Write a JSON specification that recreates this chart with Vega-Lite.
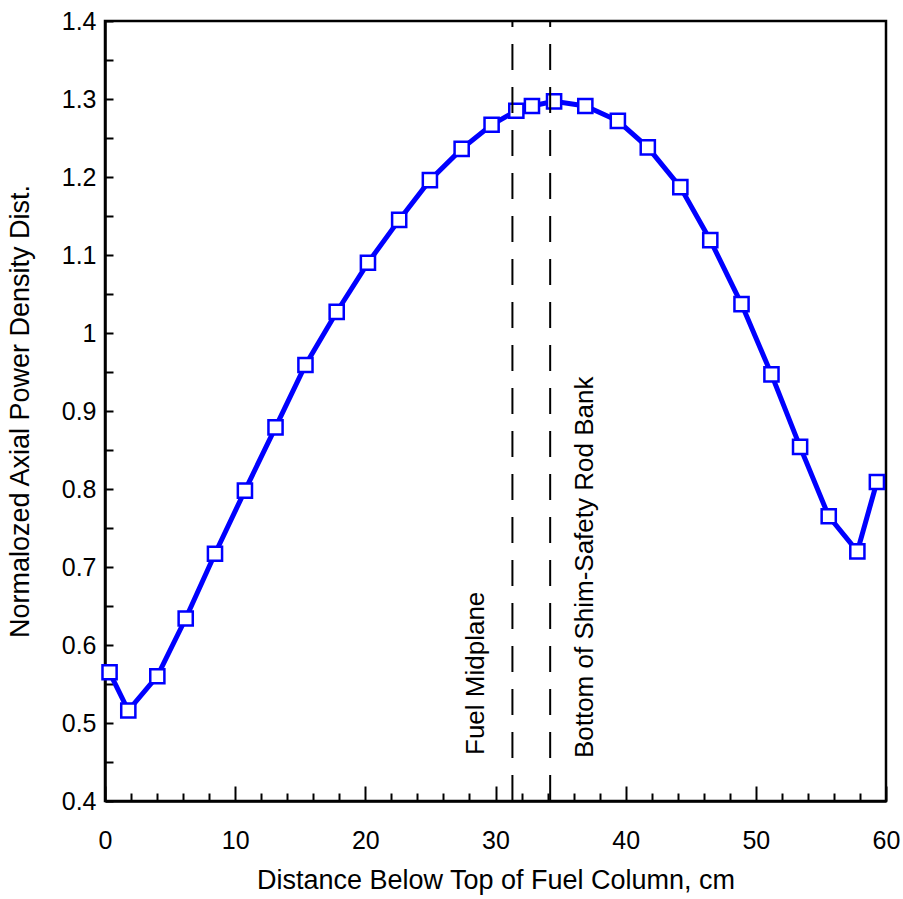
{
  "$schema": "https://vega.github.io/schema/vega-lite/v6.json",
  "width": 781,
  "height": 780,
  "autosize": "none",
  "padding": {"left": 105, "top": 21, "right": 17, "bottom": 98},
  "background": "white",
  "config": {
    "view": {"stroke": "black", "strokeWidth": 2.5},
    "font": "Liberation Sans",
    "axis": {"grid": false, "labelFlush": false, "labelOverlap": false, "domainColor": "black", "domainWidth": 2.5, "tickColor": "black", "tickWidth": 2, "labelFont": "Liberation Sans", "titleFont": "Liberation Sans", "labelColor": "black", "titleColor": "black", "titleFontWeight": "normal", "labelFontSize": 25, "titleFontSize": 27}
  },
  "datasets": {
    "profile": [
      {"distance": 0.35, "power": 0.565},
      {"distance": 1.79, "power": 0.516},
      {"distance": 4.02, "power": 0.56},
      {"distance": 6.2, "power": 0.634},
      {"distance": 8.45, "power": 0.717},
      {"distance": 10.75, "power": 0.798},
      {"distance": 13.1, "power": 0.879},
      {"distance": 15.4, "power": 0.959},
      {"distance": 17.8, "power": 1.027},
      {"distance": 20.2, "power": 1.09},
      {"distance": 22.6, "power": 1.145},
      {"distance": 24.96, "power": 1.196},
      {"distance": 27.4, "power": 1.236},
      {"distance": 29.7, "power": 1.267},
      {"distance": 31.6, "power": 1.285},
      {"distance": 32.8, "power": 1.291},
      {"distance": 34.5, "power": 1.297},
      {"distance": 36.9, "power": 1.291},
      {"distance": 39.4, "power": 1.272},
      {"distance": 41.7, "power": 1.238},
      {"distance": 44.2, "power": 1.187},
      {"distance": 46.5, "power": 1.119},
      {"distance": 48.9, "power": 1.037},
      {"distance": 51.2, "power": 0.947},
      {"distance": 53.4, "power": 0.854},
      {"distance": 55.6, "power": 0.765},
      {"distance": 57.8, "power": 0.72},
      {"distance": 59.3, "power": 0.809}
    ],
    "markers": [
      {"distance": 31.3, "label": "Fuel Midplane", "labelX": 28.5, "labelY": 0.459},
      {"distance": 34.2, "label": "Bottom of Shim-Safety Rod Bank", "labelX": 36.9, "labelY": 0.455}
    ]
  },
  "resolve": {"axis": {"x": "independent", "y": "independent"}},
  "layer": [
    {
      "data": {"name": "profile"},
      "mark": {"type": "line", "color": "#0000ff", "strokeWidth": 5},
      "encoding": {
        "x": {"field": "distance", "type": "quantitative", "scale": {"domain": [0, 60], "nice": false, "zero": false},
          "axis": {"orient": "bottom", "values": [0, 10, 20, 30, 40, 50, 60], "tickSize": -15, "labelPadding": 42, "title": "Distance Below Top of Fuel Column, cm", "titlePadding": 14}},
        "y": {"field": "power", "type": "quantitative", "scale": {"domain": [0.4, 1.4], "nice": false, "zero": false},
          "axis": {"orient": "left", "values": [0.4, 0.5, 0.6, 0.7, 0.8, 0.9, 1, 1.1, 1.2, 1.3, 1.4], "labelExpr": "datum.value == 1 ? '1' : datum.label", "tickSize": -8, "labelPadding": 17, "title": "Normalozed Axial Power Density Dist.", "titlePadding": 27}}
      }
    },
    {
      "data": {"name": "profile"},
      "mark": {"type": "point", "shape": "square", "size": 200, "filled": true, "fill": "white", "stroke": "#0000ff", "strokeWidth": 2.5, "opacity": 1},
      "encoding": {
        "x": {"field": "distance", "type": "quantitative",
          "axis": {"orient": "bottom", "values": [2, 4, 6, 8, 12, 14, 16, 18, 22, 24, 26, 28, 32, 34, 36, 38, 42, 44, 46, 48, 52, 54, 56, 58], "tickSize": -8, "labels": false, "domain": false, "title": null}},
        "y": {"field": "power", "type": "quantitative",
          "axis": {"orient": "left", "values": [0.45, 0.55, 0.65, 0.75, 0.85, 0.95, 1.05, 1.15, 1.25, 1.35], "tickSize": -8, "labels": false, "domain": false, "title": null}}
      }
    },
    {
      "data": {"name": "markers"},
      "mark": {"type": "rule", "color": "black", "strokeWidth": 2, "strokeDash": [26, 17]},
      "encoding": {
        "x": {"field": "distance", "type": "quantitative", "axis": null},
        "y": {"datum": 0.4, "type": "quantitative", "axis": null},
        "y2": {"datum": 1.4}
      }
    },
    {
      "data": {"name": "markers"},
      "mark": {"type": "text", "angle": 270, "align": "left", "baseline": "middle", "fontSize": 26, "font": "Liberation Sans", "color": "black"},
      "encoding": {
        "x": {"field": "labelX", "type": "quantitative", "axis": null},
        "y": {"field": "labelY", "type": "quantitative", "axis": null},
        "text": {"field": "label"}
      }
    }
  ]
}
